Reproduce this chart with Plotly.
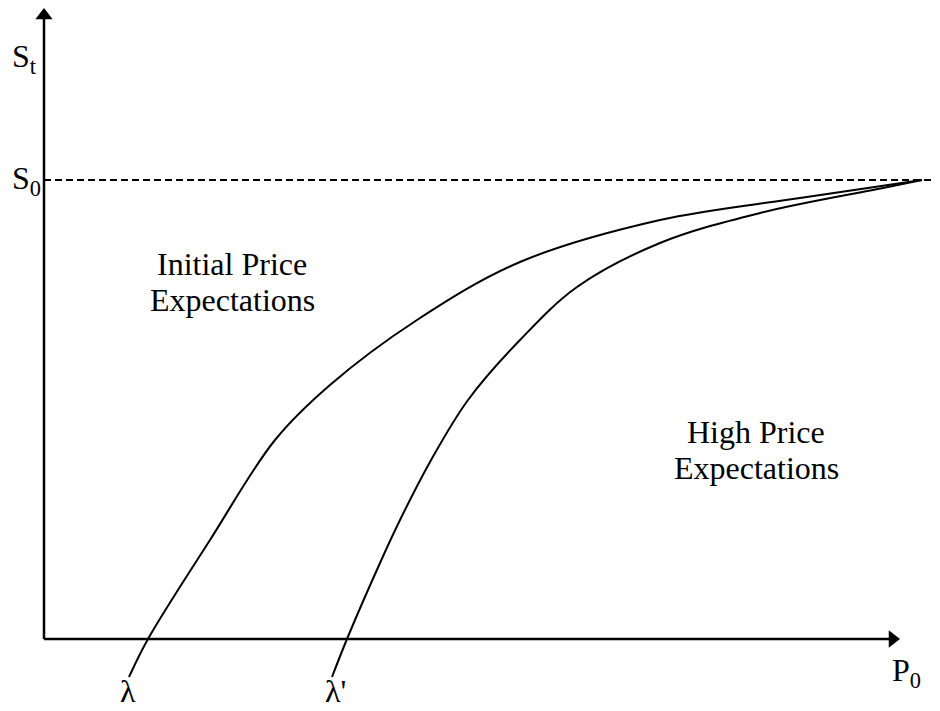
"""
Price expectations diagram: S_t against P_0 with two lambda curves
"""
import plotly.graph_objects as go

# curves (x = P0 units, y = S_t units)
lam_x = [0.85, 1.04, 1.66, 2.31, 2.86, 3.73, 4.76, 6.16, 7.56, 8.78]
lam_y = [-0.38, 0.0, 0.99, 1.99, 2.54, 3.19, 3.77, 4.19, 4.41, 4.59]

lam2_x = [2.88, 3.03, 3.36, 3.56, 3.86, 4.24, 4.76, 5.33, 6.16, 7.16, 8.39, 8.78]
lam2_y = [-0.38, 0.0, 0.76, 1.19, 1.77, 2.39, 2.99, 3.52, 3.96, 4.26, 4.51, 4.59]

s0 = 4.59
x_max = 8.45
y_max = 6.20
dash_end = 8.90

FONT = 'Liberation Serif, Times New Roman, serif'

fig = go.Figure()

# axes with arrow heads
fig.add_trace(go.Scatter(x=[0, 0], y=[0, y_max], mode='lines',
                         line={'color': 'black', 'width': 2.5}))
fig.add_trace(go.Scatter(x=[0, x_max], y=[0, 0], mode='lines',
                         line={'color': 'black', 'width': 2.5}))
fig.add_trace(go.Scatter(x=[0], y=[y_max + 0.035], mode='markers',
                         marker={'symbol': 'triangle-up', 'size': 15, 'color': 'black'}))
fig.add_trace(go.Scatter(x=[x_max + 0.035], y=[0], mode='markers',
                         marker={'symbol': 'triangle-right', 'size': 15, 'color': 'black'}))

# S0 dashed level
fig.add_trace(go.Scatter(x=[0, dash_end], y=[s0, s0], mode='lines',
                         line={'color': 'black', 'width': 1.8, 'dash': '7px,4px'}))

# lambda curves
for xs, ys in [(lam_x, lam_y), (lam2_x, lam2_y)]:
    fig.add_trace(go.Scatter(x=xs, y=ys, mode='lines',
                             line={'color': 'black', 'width': 2,
                                   'shape': 'spline', 'smoothing': 1.0}))

labels = [
    ('S<sub>t</sub>', -0.34, 5.81, 'left', 'middle'),
    ('S<sub>0</sub>', -0.34, s0, 'left', 'middle'),
    ('P<sub>0</sub>', 8.46, -0.33, 'left', 'middle'),
    ('λ', 0.84, -0.72, 'center', 'bottom'),
    ("λ'", 2.91, -0.72, 'center', 'bottom'),
    ('Initial Price', 1.88, 3.75, 'center', 'middle'),
    ('Expectations', 1.88, 3.39, 'center', 'middle'),
    ('High Price', 7.12, 2.07, 'center', 'middle'),
    ('Expectations', 7.12, 1.71, 'center', 'middle'),
]
for text, x, y, xa, ya in labels:
    fig.add_annotation(x=x, y=y, text=text, showarrow=False,
                       xanchor=xa, yanchor=ya,
                       font={'family': FONT, 'size': 32, 'color': 'black'})

# ranges offset by the 8px page margin that write_html leaves around the plot
fig.update_xaxes(visible=False, range=[-0.36, 9.04], fixedrange=True)
fig.update_yaxes(visible=False, range=[-0.80, 6.31], fixedrange=True)
fig.update_layout(width=940, height=711, showlegend=False,
                  margin={'l': 0, 'r': 0, 't': 0, 'b': 0},
                  plot_bgcolor='white', paper_bgcolor='white')

fig.write_html('out.html')
